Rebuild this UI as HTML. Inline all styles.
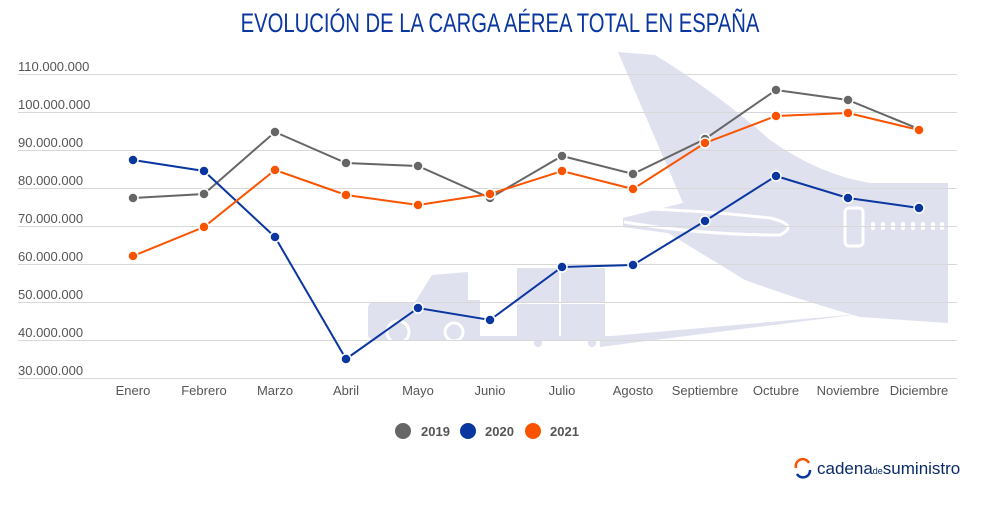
<!DOCTYPE html>
<html><head><meta charset="utf-8"><style>
body{margin:0;background:#fff;width:1000px;height:500px;overflow:hidden;font-family:"Liberation Sans",sans-serif}
</style></head><body>
<svg width="1000" height="500" viewBox="0 0 1000 500" xmlns="http://www.w3.org/2000/svg" font-family="Liberation Sans, sans-serif">
<text x="500" y="32" text-anchor="middle" font-size="27" fill="#0a36a0" transform="translate(500,0) scale(0.75,1) translate(-500,0)">EVOLUCIÓN DE LA CARGA AÉREA TOTAL EN ESPAÑA</text>
<!-- background illustration -->
<g fill="#dfe1ef">
<path d="M618,52 L655,55 Q720,95 770,140 Q820,175 870,183 L948,183 L948,323 L860,317 Q800,300 745,280 L668,233 L623,227 L623,218 L683,203 Z"/>
<path d="M600,347 L860,314 L600,337 Z"/>
<rect x="368" y="302" width="78" height="38" rx="6"/>
<path d="M415,302 L432,275 L468,272 L468,302 Z"/>
<rect x="440" y="300" width="40" height="40"/>
<rect x="517" y="268" width="42" height="34"/><rect x="561" y="268" width="44" height="34"/>
<rect x="517" y="304" width="42" height="32"/><rect x="561" y="304" width="44" height="32"/>
<rect x="480" y="336" width="140" height="5"/>
</g>
<g fill="none" stroke="#fff" stroke-width="3">
<circle cx="398" cy="332" r="11"/><circle cx="454" cy="332" r="9"/>
<path d="M624,222 Q700,235 780,235 Q800,225 770,218 Q700,210 624,208"/>
<rect x="845" y="208" width="18" height="38" rx="4"/>
</g>
<g fill="#dfe1ef"><circle cx="398" cy="332" r="6"/><circle cx="454" cy="332" r="4"/><circle cx="538" cy="343" r="4"/><circle cx="592" cy="343" r="4"/></g>
<g fill="#fff"><rect x="871" y="222" width="4" height="8" rx="2"/><rect x="881" y="222" width="4" height="8" rx="2"/><rect x="891" y="222" width="4" height="8" rx="2"/><rect x="901" y="222" width="4" height="8" rx="2"/><rect x="911" y="222" width="4" height="8" rx="2"/><rect x="921" y="222" width="4" height="8" rx="2"/><rect x="931" y="222" width="4" height="8" rx="2"/><rect x="940" y="222" width="4" height="8" rx="2"/></g>
<!-- grid -->
<g stroke="#d8d8d8" stroke-width="1">
<line x1="18" x2="957" y1="74.5" y2="74.5"/><line x1="18" x2="957" y1="112.5" y2="112.5"/><line x1="18" x2="957" y1="150.5" y2="150.5"/><line x1="18" x2="957" y1="188.5" y2="188.5"/><line x1="18" x2="957" y1="226.5" y2="226.5"/><line x1="18" x2="957" y1="264.5" y2="264.5"/><line x1="18" x2="957" y1="302.5" y2="302.5"/><line x1="18" x2="957" y1="340.5" y2="340.5"/><line x1="18" x2="957" y1="378.5" y2="378.5"/>
</g>
<g font-size="13" fill="#555">
<text x="18" y="71">110.000.000</text><text x="18" y="109">100.000.000</text><text x="18" y="147">90.000.000</text><text x="18" y="185">80.000.000</text><text x="18" y="223">70.000.000</text><text x="18" y="261">60.000.000</text><text x="18" y="299">50.000.000</text><text x="18" y="337">40.000.000</text><text x="18" y="375">30.000.000</text>
</g>
<g font-size="13" fill="#555" text-anchor="middle">
<text x="133" y="395">Enero</text><text x="204" y="395">Febrero</text><text x="275" y="395">Marzo</text><text x="346" y="395">Abril</text><text x="418" y="395">Mayo</text><text x="490" y="395">Junio</text><text x="562" y="395">Julio</text><text x="633" y="395">Agosto</text><text x="705" y="395">Septiembre</text><text x="776" y="395">Octubre</text><text x="848" y="395">Noviembre</text><text x="919" y="395">Diciembre</text>
</g>
<!-- series -->
<g fill="none" stroke-width="2">
<polyline stroke="#666" points="133,198 204,194 275,132 346,163 418,166 490,198 562,156 633,174 705,139 776,90 848,100 919,129"/>
<polyline stroke="#0a36a0" points="133,160 204,171 275,237 346,359 418,308 490,320 562,267 633,265 705,221 776,176 848,198 919,208"/>
<polyline stroke="#fa5300" points="133,256 204,227 275,170 346,195 418,205 490,194 562,171 633,189 705,143 776,116 848,113 919,130"/>
</g>
<g stroke="#fff" stroke-width="1.5">
<g fill="#666"><circle cx="133" cy="198" r="5"/><circle cx="204" cy="194" r="5"/><circle cx="275" cy="132" r="5"/><circle cx="346" cy="163" r="5"/><circle cx="418" cy="166" r="5"/><circle cx="490" cy="198" r="5"/><circle cx="562" cy="156" r="5"/><circle cx="633" cy="174" r="5"/><circle cx="705" cy="139" r="5"/><circle cx="776" cy="90" r="5"/><circle cx="848" cy="100" r="5"/><circle cx="919" cy="129" r="5"/></g>
<g fill="#0a36a0"><circle cx="133" cy="160" r="5"/><circle cx="204" cy="171" r="5"/><circle cx="275" cy="237" r="5"/><circle cx="346" cy="359" r="5"/><circle cx="418" cy="308" r="5"/><circle cx="490" cy="320" r="5"/><circle cx="562" cy="267" r="5"/><circle cx="633" cy="265" r="5"/><circle cx="705" cy="221" r="5"/><circle cx="776" cy="176" r="5"/><circle cx="848" cy="198" r="5"/><circle cx="919" cy="208" r="5"/></g>
<g fill="#fa5300"><circle cx="133" cy="256" r="5"/><circle cx="204" cy="227" r="5"/><circle cx="275" cy="170" r="5"/><circle cx="346" cy="195" r="5"/><circle cx="418" cy="205" r="5"/><circle cx="490" cy="194" r="5"/><circle cx="562" cy="171" r="5"/><circle cx="633" cy="189" r="5"/><circle cx="705" cy="143" r="5"/><circle cx="776" cy="116" r="5"/><circle cx="848" cy="113" r="5"/><circle cx="919" cy="130" r="5"/></g>
</g>
<!-- legend -->
<circle cx="403" cy="431" r="8" fill="#666"/><text x="421" y="436" font-size="13" fill="#555" font-weight="bold">2019</text>
<circle cx="468" cy="431" r="8" fill="#0a36a0"/><text x="485" y="436" font-size="13" fill="#555" font-weight="bold">2020</text>
<circle cx="533" cy="431" r="8" fill="#fa5300"/><text x="550" y="436" font-size="13" fill="#555" font-weight="bold">2021</text>
<!-- logo -->
<path d="M796,468 A7,7 0 0 1 809,463" fill="none" stroke="#fa5300" stroke-width="2.5"/>
<path d="M810,470 A7,7 0 0 1 797,474" fill="none" stroke="#0a36a0" stroke-width="2.5"/>
<text x="817" y="474" font-size="17" fill="#0a2a6a">cadena<tspan font-size="9">de</tspan>suministro</text>
</svg>
</body></html>
